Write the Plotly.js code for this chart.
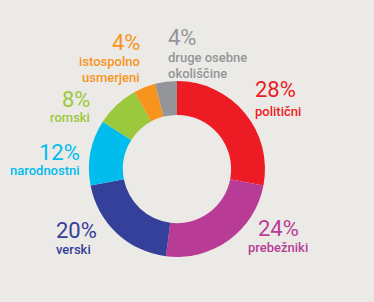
<!DOCTYPE html>
<html>
<head>
<meta charset="utf-8">
<script src="https://cdn.plot.ly/plotly-3.0.1.min.js"></script>
<style>
html,body{margin:0;padding:0;background:#ECEAE6;}
#chart{width:374px;height:302px;}
</style>
</head>
<body>
<div id="chart"></div>
<script>
// Data
const categories = ['politični', 'prebežniki', 'verski', 'narodnostni', 'romski', 'istospolno usmerjeni', 'druge osebne okoliščine'];
const values = [28, 24, 20, 12, 8, 4, 4];
const labelLines = [['politični'], ['prebežniki'], ['verski'], ['narodnostni'], ['romski'], ['istospolno', 'usmerjeni'], ['druge osebne', 'okoliščine']];
const colors = ['#ED1C24', '#B83C96', '#35409A', '#00BDEE', '#9BC83C', '#F7941D', '#939598'];

// Layout config (pixel positions of label blocks)
const W = 374, H = 302;
const labelPos = [
  {x: 253, yPct: 90, yLine: 111, anchor: 'left'},
  {x: 278, yPct: 228, yLine: 247, anchor: 'center'},
  {x: 54, yPct: 230, yLine: 249, anchor: 'left'},
  {x: 82, yPct: 152, yLine: 170, anchor: 'right'},
  {x: 92, yPct: 99, yLine: 117, anchor: 'right'},
  {x: 142, yPct: 43, yLine: 62, anchor: 'right'},
  {x: 166, yPct: 38, yLine: 58, anchor: 'left'}
];
const lineStep = 15;

const cx = 177, cy = 169, R = 88;

const annotations = [];
values.forEach((v, i) => {
  const p = labelPos[i];
  annotations.push({
    xref: 'paper', yref: 'paper',
    x: p.x / W, y: 1 - p.yPct / H,
    xanchor: p.anchor, yanchor: 'middle',
    text: v + '%', showarrow: false,
    font: {family: 'Roboto, sans-serif', size: 22, color: colors[i], weight: 400}
  });
  labelLines[i].forEach((ln, j) => {
    annotations.push({
      xref: 'paper', yref: 'paper',
      x: p.x / W, y: 1 - (p.yLine + j * lineStep) / H,
      xanchor: p.anchor, yanchor: 'middle',
      text: ln, showarrow: false,
      font: {family: 'Roboto, sans-serif', size: 13, color: colors[i], weight: 500}
    });
  });
});

const trace = {
  type: 'pie',
  labels: categories,
  values: values,
  hole: 0.615,
  sort: false,
  direction: 'clockwise',
  rotation: 0,
  textinfo: 'none',
  hoverinfo: 'none',
  showlegend: false,
  marker: {colors: colors, line: {width: 0}},
  domain: {x: [(cx - R) / W, (cx + R) / W], y: [1 - (cy + R) / H, 1 - (cy - R) / H]}
};

Plotly.newPlot('chart', [trace], {
  width: W, height: H,
  margin: {l: 0, r: 0, t: 0, b: 0},
  paper_bgcolor: '#ECEAE6',
  plot_bgcolor: '#ECEAE6',
  annotations: annotations,
  showlegend: false
}, {staticPlot: true, displayModeBar: false});
</script>
</body>
</html>
